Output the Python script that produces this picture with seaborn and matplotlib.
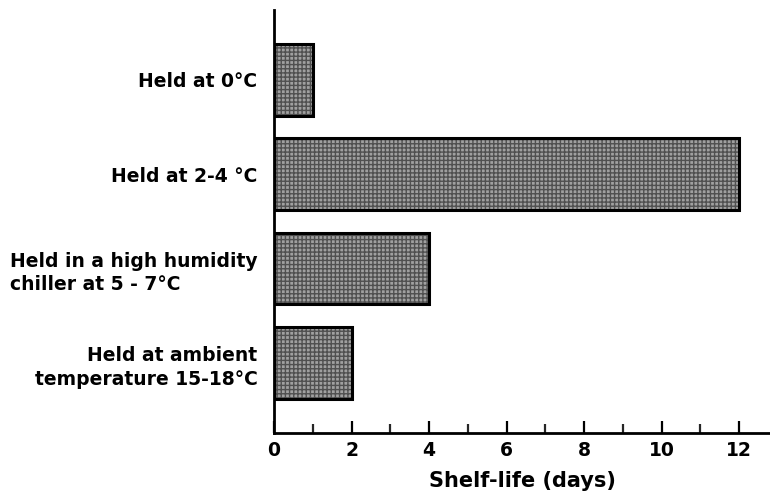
import numpy as np
import matplotlib
matplotlib.use("Agg")
import matplotlib.pyplot as plt
from matplotlib.ticker import MultipleLocator
import seaborn as sns

# ── Data ───────────────────────────────────────────────────────────────────────
conditions = [
    "Held at 0°C",
    "Held at 2-4 °C",
    "Held in a high humidity\nchiller at 5 - 7°C",
    "Held at ambient\ntemperature 15-18°C",
]
shelf_life = [1, 12, 4, 2]
x_ticks = [0, 2, 4, 6, 8, 10, 12]
label_align = ["right", "right", "left", "right"]   # how multi-line labels line up

sns.set_theme(style="white")
plt.rcParams["font.family"] = ["DejaVu Sans"]

fig = plt.figure(figsize=(7.7, 4.97), dpi=100)
ax = fig.add_axes([0.356, 0.129, 0.644, 0.851])

# stippled grey fill, then the black outline on top
sns.barplot(x=shelf_life, y=conditions, orient="h", color="#a0a0a0",
            edgecolor="#505050", linewidth=0, hatch="++++", width=0.76,
            saturation=1, ax=ax)
sns.barplot(x=shelf_life, y=conditions, orient="h", fill=False,
            edgecolor="black", linewidth=2.2, width=0.76, ax=ax)

ax.set_xlim(0, 12.8)
ax.set_ylim(3.74, -0.74)
ax.set_xticks(x_ticks)
ax.xaxis.set_minor_locator(MultipleLocator(1))
ax.tick_params(axis="x", which="major", direction="in", length=9, width=1.6,
               labelsize=13.5, pad=6, colors="black", bottom=True)
ax.tick_params(axis="x", which="minor", direction="in", length=6.5, width=1.6,
               bottom=True)
ax.tick_params(axis="y", length=0, labelsize=13.5, pad=12, colors="black")
for lbl in ax.get_xticklabels():
    lbl.set_fontweight("bold")
for lbl, al in zip(ax.get_yticklabels(), label_align):
    lbl.set_horizontalalignment("right")
    lbl.set_multialignment(al)
    lbl.set_fontweight("bold")
    lbl.set_linespacing(1.3)

ax.set_xlabel("Shelf-life (days)", fontsize=15, fontweight="bold",
              labelpad=8, color="black")
ax.set_ylabel("")

for side in ["top", "right"]:
    ax.spines[side].set_visible(False)
for side in ["left", "bottom"]:
    ax.spines[side].set_color("black")
    ax.spines[side].set_linewidth(2)

fig.savefig("out.png", dpi=100)
